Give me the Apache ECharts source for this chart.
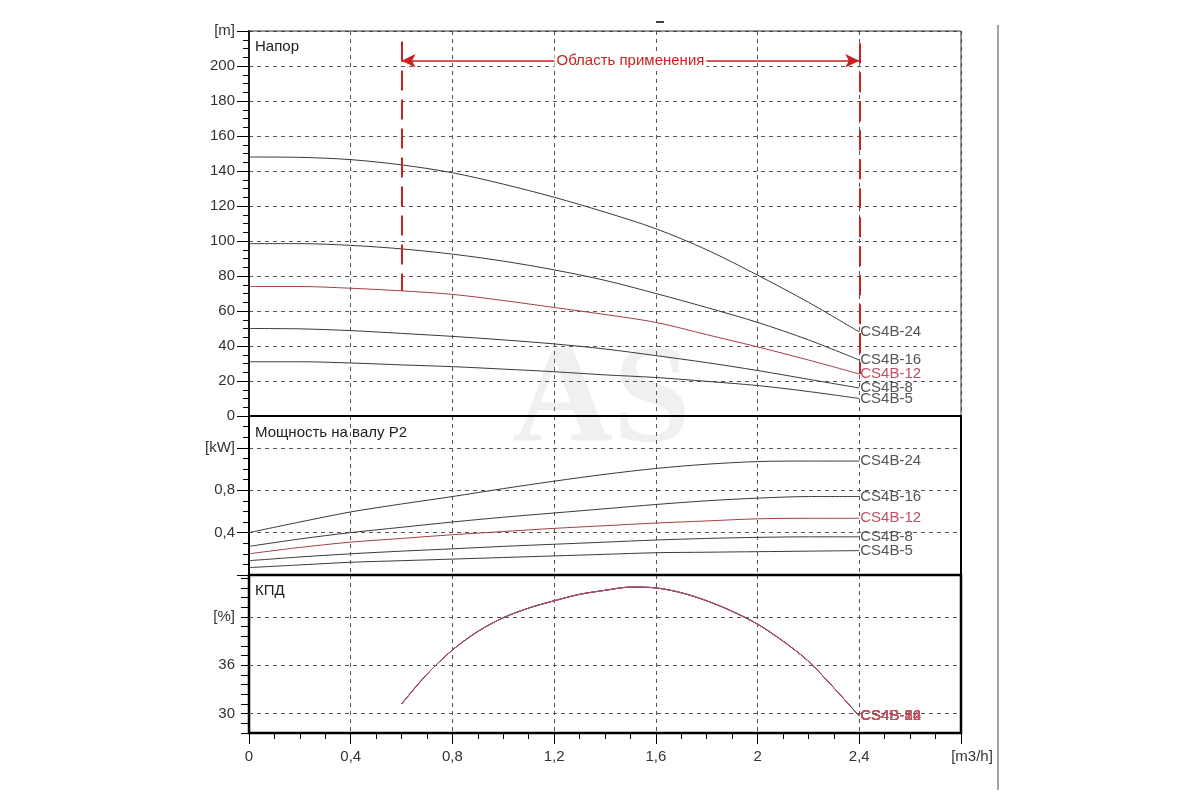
<!DOCTYPE html>
<html>
<head>
  <meta charset="utf-8">
  <title>CS4B</title>
  <style>
    html, body { margin: 0; background: #fff; }
    #main { width: 1200px; height: 800px; }
  </style>
</head>
<body>
<div id="main"></div>
<script src="https://cdn.jsdelivr.net/npm/echarts@6/dist/echarts.min.js"></script>
<script>
// подача, m3/h
const flow = [0, 0.2, 0.4, 0.6, 0.8, 1.0, 1.2, 1.4, 1.6, 1.8, 2.0, 2.2, 2.4];
const models = ['CS4B-24', 'CS4B-16', 'CS4B-12', 'CS4B-8', 'CS4B-5'];

// напор, m
const head24 = [148, 147.8, 146.5, 143.5, 139, 132.5, 125, 116.5, 107, 95, 80.5, 65, 48];
const head16 = [98.5, 98.5, 97.5, 95.5, 92.5, 88.5, 83.5, 77.5, 70, 62, 53.5, 43.5, 32];
const head12 = [74, 74, 73, 71.5, 69.5, 66, 62, 58, 53.5, 46.5, 39.5, 32, 24];
const head8 = [50, 49.8, 48.8, 47.2, 45.5, 43.5, 41.2, 38.3, 34.5, 30.5, 26, 21, 16];
const head5 = [31, 31, 30.3, 29.2, 28.2, 26.8, 25.3, 23.5, 22, 19.8, 17.4, 14, 10];

// мощность P2, kW
const power24 = [0.40, 0.50, 0.595, 0.67, 0.74, 0.815, 0.885, 0.95, 1.005, 1.045, 1.07, 1.075, 1.075];
const power16 = [0.27, 0.34, 0.40, 0.45, 0.50, 0.545, 0.585, 0.625, 0.665, 0.70, 0.725, 0.74, 0.74];
const power12 = [0.20, 0.26, 0.31, 0.345, 0.38, 0.41, 0.44, 0.465, 0.49, 0.51, 0.53, 0.535, 0.535];
const power8 = [0.135, 0.17, 0.20, 0.225, 0.247, 0.27, 0.29, 0.31, 0.33, 0.345, 0.355, 0.36, 0.36];
const power5 = [0.07, 0.095, 0.12, 0.135, 0.15, 0.165, 0.18, 0.195, 0.21, 0.215, 0.22, 0.225, 0.23];

// КПД, %
const effFlow = [0.6, 0.7, 0.8, 0.9, 1.0, 1.1, 1.2, 1.3, 1.4, 1.5, 1.6, 1.7, 1.8, 1.9, 2.0, 2.1, 2.2, 2.3, 2.4];
const eff = [31.2, 34.9, 37.9, 40.2, 41.9, 43.1, 44.0, 44.8, 45.3, 45.7, 45.6, 45.0, 44.0, 42.7, 41.1, 39.0, 36.5, 33.2, 29.7];
const effGrid = [30, 36, 42];

// область применения
const workRange = [0.6, 2.4];
const workTop = [214, 213];
const workBottom = [71.5, 24];
const arrowHead = 203;

const heads = [head24, head16, head12, head8, head5];
const powers = [power24, power16, power12, power8, power5];

const FONT = 'Liberation Sans, Arial, sans-serif';
const RED = '#cc1f1f';
const lineColor = name => name === 'CS4B-12' ? '#a0404c' : '#3a3a3a';
const labelColor = name => name === 'CS4B-12' ? '#c05060' : '#555';
const comma = v => String(+v.toFixed(1)).replace('.', ',');
const pairs = (xs, ys) => xs.map((x, i) => [x, ys[i]]);

function curve(name, grid, data, color, lblColor) {
  return {
    name: name,
    type: 'line',
    xAxisIndex: grid,
    yAxisIndex: grid,
    data: data,
    symbol: 'none',
    smooth: 0.3,
    silent: true,
    lineStyle: { width: 1, color: color },
    itemStyle: { color: color },
    endLabel: {
      show: true, formatter: '{a}', distance: 1,
      color: lblColor, fontSize: 15, fontFamily: FONT
    }
  };
}

const series = [];
models.forEach((m, i) => series.push(curve(m, 0, pairs(flow, heads[i]), lineColor(m), labelColor(m))));
models.forEach((m, i) => series.push(curve(m, 1, pairs(flow, powers[i]), lineColor(m), labelColor(m))));
models.forEach(m => series.push(curve(m, 2, pairs(effFlow, eff), '#a05060', '#c05060')));

// красная разметка области применения
const dashRed = { color: RED, width: 2, type: [20, 9] };
series[0].markLine = {
  silent: true,
  animation: false,
  symbol: 'none',
  label: { show: false },
  data: [
    [{ coord: [workRange[0], workTop[0]], lineStyle: dashRed }, { coord: [workRange[0], workBottom[0]] }],
    [{ coord: [workRange[1], workTop[1]], lineStyle: dashRed }, { coord: [workRange[1], workBottom[1]] }],
    [
      {
        coord: [workRange[0], arrowHead],
        symbol: 'arrow',
        lineStyle: { color: RED, width: 1.5, type: 'solid' },
        label: {
          show: true, position: 'middle', formatter: 'Область применения',
          distance: 0, verticalAlign: 'middle',
          color: RED, fontSize: 15, fontFamily: FONT,
          backgroundColor: '#fff', padding: [0, 2]
        }
      },
      { coord: [workRange[1], arrowHead], symbol: 'arrow' }
    ]
  ],
  symbolSize: [10, 14]
};

// пунктир сетки КПД
series[10].markLine = {
  silent: true,
  animation: false,
  symbol: 'none',
  label: { show: false },
  lineStyle: { color: '#555', width: 1, type: [4, 4] },
  data: effGrid.map(v => ({ yAxis: v }))
};

const grids = [
  { left: 249, right: 239, top: 31, height: 385, show: true, borderColor: '#333', borderWidth: 1, z: 1 },
  { left: 249, right: 239, top: 416, height: 159, show: true, borderColor: '#000', borderWidth: 2, z: 2 },
  { left: 249, right: 239, top: 575, height: 158, show: true, borderColor: '#000', borderWidth: 2.5, z: 2 }
];

const splitDash = { show: true, lineStyle: { color: '#555', width: 1, type: [4, 4] } };
const xAxes = [0, 1, 2].map(i => ({
  type: 'value',
  gridIndex: i,
  min: 0,
  max: 2.8,
  interval: 0.4,
  axisLine: { show: i === 2, lineStyle: { color: '#000', width: 2 } },
  axisTick: { show: i === 2, length: 11, lineStyle: { color: '#000' } },
  minorTick: { show: i === 2, splitNumber: 4, length: 6, lineStyle: { color: '#000' } },
  axisLabel: {
    show: i === 2, margin: 16, fontSize: 15, color: '#333', fontFamily: FONT,
    formatter: v => v > 2.75 ? '{u|[m3/h]}' : comma(v),
    rich: { u: { fontSize: 15, color: '#333', fontFamily: FONT, padding: [0, 0, 0, 22] } }
  },
  splitLine: splitDash
}));

const yBase = {
  type: 'value',
  axisLine: { show: true, lineStyle: { color: '#000', width: 2 } },
  axisTick: { show: true, length: 12, lineStyle: { color: '#000' } },
  minorTick: { show: true, splitNumber: 4, length: 6, lineStyle: { color: '#000' } }
};
const lbl = f => ({ margin: 14, fontSize: 15, color: '#333', fontFamily: FONT, formatter: f });

const yAxes = [
  Object.assign({}, yBase, {
    gridIndex: 0, min: 0, max: 220, interval: 20,
    axisLabel: lbl(v => v === 220 ? '[m]' : String(v)),
    splitLine: splitDash
  }),
  Object.assign({}, yBase, {
    gridIndex: 1, min: 0, max: 1.5, interval: 0.4,
    axisLabel: Object.assign(lbl(v => {
      if (v < 0.05 || v > 1.3) return '';
      if (Math.abs(v - 1.2) < 1e-6) return '[kW]';
      return comma(v);
    }), { showMaxLabel: false, showMinLabel: false }),
    splitLine: splitDash
  }),
  Object.assign({}, yBase, {
    gridIndex: 2, min: 27.6, max: 47.2, interval: 1.2,
    axisTick: { show: true, length: 8, lineStyle: { color: '#000' } },
    minorTick: { show: false },
    axisLabel: Object.assign(lbl(v => {
      const r = Math.round(v * 10) / 10;
      return r === 42 ? '[%]' : (r === 30 || r === 36 ? String(r) : '');
    }), { showMaxLabel: false }),
    splitLine: { show: false }
  })
];

const titleText = (text, y) => ({
  type: 'text', left: 255, top: y, z: 10,
  style: { text: text, fill: '#222', font: '15px ' + FONT }
});

const option = {
  animation: false,
  backgroundColor: '#fff',
  grid: grids,
  xAxis: xAxes,
  yAxis: yAxes,
  series: series,
  graphic: [
    {
      type: 'text', left: 512, top: 335, z: -1, silent: true,
      style: { text: 'AS', fill: 'rgba(0,0,0,0.06)', font: 'bold 140px Liberation Serif, serif' }
    },
    titleText('Напор', 39),
    titleText('Мощность на валу P2', 425),
    titleText('КПД', 583),
    { type: 'line', z: 10, shape: { x1: 998, y1: 25, x2: 998, y2: 790 }, style: { stroke: '#444', lineWidth: 1 } },
    { type: 'line', z: 10, shape: { x1: 656, y1: 22, x2: 664, y2: 22 }, style: { stroke: '#000', lineWidth: 1.5 } }
  ]
};

echarts.init(document.getElementById('main')).setOption(option);
</script>
</body>
</html>
